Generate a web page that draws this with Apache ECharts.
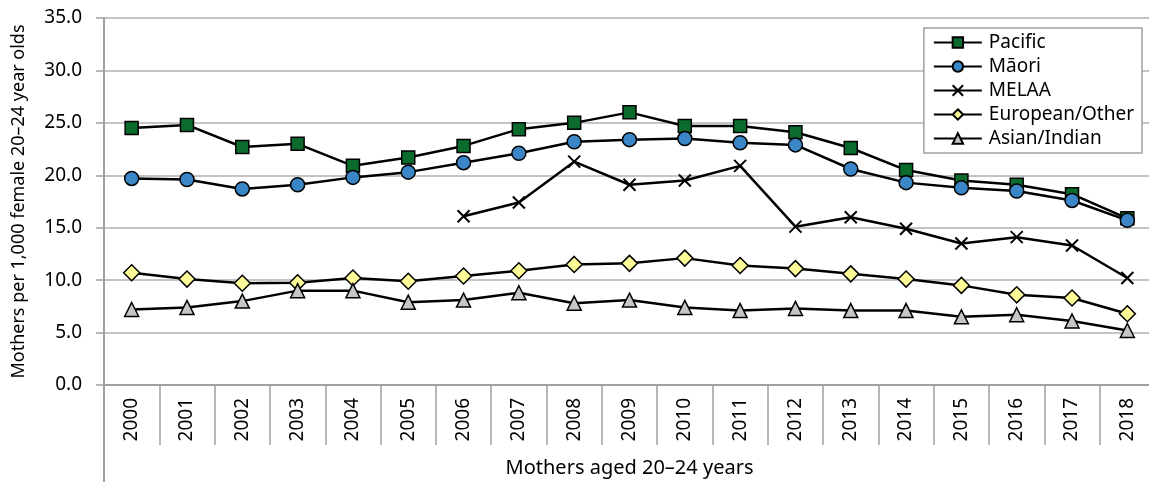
<!DOCTYPE html>
<html>
<head>
<meta charset="utf-8">
<title>Mothers aged 20–24 years</title>
<script src="https://cdn.jsdelivr.net/npm/echarts@6/dist/echarts.min.js"></script>
<style>
  html, body { margin: 0; padding: 0; background: #fff; }
  #chart { width: 1149px; height: 486px; }
</style>
</head>
<body>
<div id="chart"></div>
<script>
// 年份与各族群数据（每千名20–24岁女性中的母亲数）
const years = ['2000', '2001', '2002', '2003', '2004', '2005', '2006', '2007', '2008', '2009',
  '2010', '2011', '2012', '2013', '2014', '2015', '2016', '2017', '2018'];
const pacific = [24.5, 24.8, 22.7, 23.0, 20.9, 21.7, 22.8, 24.4, 25.0, 26.0,
  24.7, 24.7, 24.1, 22.6, 20.5, 19.5, 19.1, 18.2, 15.9];
const maori = [19.7, 19.6, 18.7, 19.1, 19.8, 20.3, 21.2, 22.1, 23.2, 23.4,
  23.5, 23.1, 22.9, 20.6, 19.3, 18.8, 18.5, 17.6, 15.7];
const melaa = [null, null, null, null, null, null, 16.1, 17.4, 21.3, 19.1,
  19.5, 20.9, 15.1, 16.0, 14.9, 13.5, 14.1, 13.3, 10.2];
const european = [10.7, 10.1, 9.7, 9.75, 10.2, 9.9, 10.4, 10.9, 11.5, 11.6,
  12.1, 11.4, 11.1, 10.6, 10.1, 9.5, 8.6, 8.3, 6.8];
const asian = [7.2, 7.4, 8.0, 9.0, 9.0, 7.9, 8.1, 8.8, 7.8, 8.1,
  7.4, 7.1, 7.3, 7.1, 7.1, 6.5, 6.7, 6.1, 5.2];
const yTicks = { min: 0, max: 35, interval: 5 };

const font = 'Noto Sans';
const axisGrey = '#a0a0a0';

function lineSeries(name, data, symbol, fill, size) {
  return {
    name: name,
    type: 'line',
    data: data,
    symbol: symbol,
    symbolSize: size,
    showAllSymbol: true,
    connectNulls: false,
    lineStyle: { color: '#000', width: 2.5 },
    itemStyle: { color: fill, borderColor: '#000', borderWidth: 1.5 },
    emphasis: { disabled: true },
    z: 3
  };
}

const option = {
  animation: false,
  backgroundColor: '#fff',
  textStyle: { fontFamily: font },
  // 右侧绘图区超出画布，与原图一致
  grid: { left: 104, top: 18, width: 1051, bottom: 101, containLabel: false, outerBoundsMode: 'none' },
  legend: {
    orient: 'vertical',
    right: 7,
    top: 28,
    padding: [5, 8, 5, 9],
    itemGap: 5,
    itemWidth: 48,
    itemHeight: 13,
    backgroundColor: '#fff',
    borderColor: axisGrey,
    borderWidth: 1.5,
    borderRadius: 0,
    textStyle: { fontFamily: font, fontSize: 19, color: '#000', padding: [0, 0, 0, 2] },
    data: ['Pacific', 'Māori', 'MELAA', 'European/Other', 'Asian/Indian']
  },
  xAxis: {
    type: 'category',
    data: years,
    boundaryGap: true,
    name: 'Mothers aged 20–24 years',
    nameLocation: 'middle',
    nameGap: 73,
    nameMoveOverlap: false,
    nameTextStyle: { fontFamily: font, fontSize: 20, color: '#000' },
    axisLine: { lineStyle: { color: axisGrey, width: 2 } },
    axisTick: { show: true, interval: 0, length: 60, lineStyle: { color: axisGrey, width: 1.5 } },
    axisLabel: { interval: 0, rotate: 90, margin: 13, fontFamily: font, fontSize: 19, color: '#000' }
  },
  yAxis: {
    type: 'value',
    min: yTicks.min,
    max: yTicks.max,
    interval: yTicks.interval,
    name: 'Mothers per 1,000 female 20–24 year olds',
    nameLocation: 'middle',
    nameGap: 76,
    nameMoveOverlap: false,
    nameTextStyle: { fontFamily: font, fontSize: 18, color: '#000' },
    axisLine: { show: true, lineStyle: { color: axisGrey, width: 2 } },
    axisTick: { show: true, inside: false, length: 8, lineStyle: { color: axisGrey, width: 1.5 } },
    axisLabel: { margin: 22, fontFamily: font, fontSize: 19, color: '#000',
      formatter: function (v) { return v.toFixed(1); } },
    splitLine: { show: true, lineStyle: { color: '#c4c4c4', width: 2 } }
  },
  series: [
    lineSeries('Pacific', pacific, 'rect', '#0a6b2d', 13),
    lineSeries('Māori', maori, 'circle', '#3a86c6', 14),
    Object.assign(lineSeries('MELAA', melaa, 'path://M0,0L10,10M10,0L0,10', 'none', 12), {
      itemStyle: { color: 'none', borderColor: '#000', borderWidth: 2 }
    }),
    lineSeries('European/Other', european, 'diamond', '#fdfa98', 16),
    lineSeries('Asian/Indian', asian, 'triangle', '#c6c6c6', 14)
  ]
};

const chart = echarts.init(document.getElementById('chart'), null, { renderer: 'canvas' });
chart.setOption(option);

// 纵轴线向下延伸，包住年份标签区
const origin = chart.convertToPixel({ gridIndex: 0 }, [0, 0]);
const x0 = Math.round(chart.getModel().getComponent('grid').coordinateSystem.getRect().x);
chart.setOption({
  graphic: [{
    type: 'line',
    shape: { x1: x0, y1: origin[1], x2: x0, y2: 482 },
    style: { stroke: axisGrey, lineWidth: 2 },
    silent: true
  }]
});
</script>
</body>
</html>
